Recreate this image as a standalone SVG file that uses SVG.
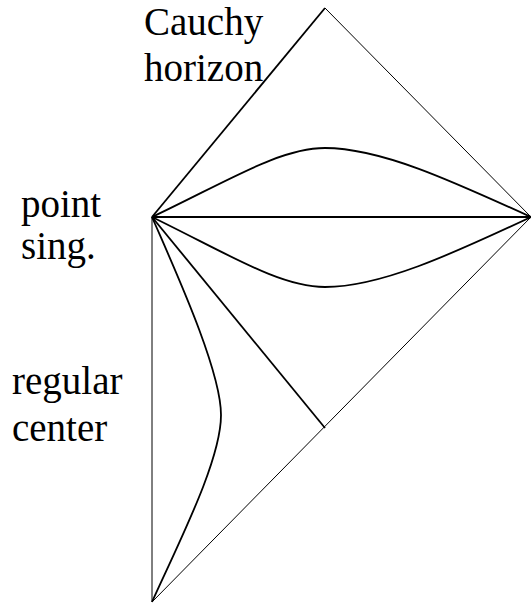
<svg xmlns="http://www.w3.org/2000/svg" width="531" height="604" viewBox="0 0 531 604">
<style>
.thick{fill:none;stroke:#000;stroke-width:1.8}
.thin{fill:none;stroke:#000;stroke-width:1}
text{font-family:'Liberation Serif','Times New Roman',serif;font-size:39px;fill:#000}
</style>
<rect width="531" height="604" fill="#fff"/>
<g id="connectors">
<line class="thick" x1="152" y1="217" x2="325" y2="8"/>
<line class="thin" x1="325" y1="8" x2="531" y2="217"/>
<line class="thin" x1="531" y1="217" x2="152" y2="602"/>
<line class="thin" x1="152" y1="217" x2="152" y2="602"/>
<line class="thick" x1="152" y1="217" x2="531" y2="217"/>
<line class="thick" x1="152" y1="217" x2="325" y2="428"/>
<path class="thick" d="M152,217 C230,180 280,148 325,148 C380,148 450,180 531,217"/>
<path class="thick" d="M152,217 C230,255 280,287 325,287 C380,287 450,255 531,217"/>
<path class="thick" d="M152,217 C175,270 221,370 221,415 C221,460 180,540 152,602"/>
</g>
<g id="label-cauchy"><text x="144" y="35">Cauchy</text><text x="144" y="81">horizon</text></g>
<g id="label-point"><text x="21" y="217">point</text><text x="21" y="259">sing.</text></g>
<g id="label-regular"><text x="12" y="394">regular</text><text x="12" y="441">center</text></g>
</svg>
